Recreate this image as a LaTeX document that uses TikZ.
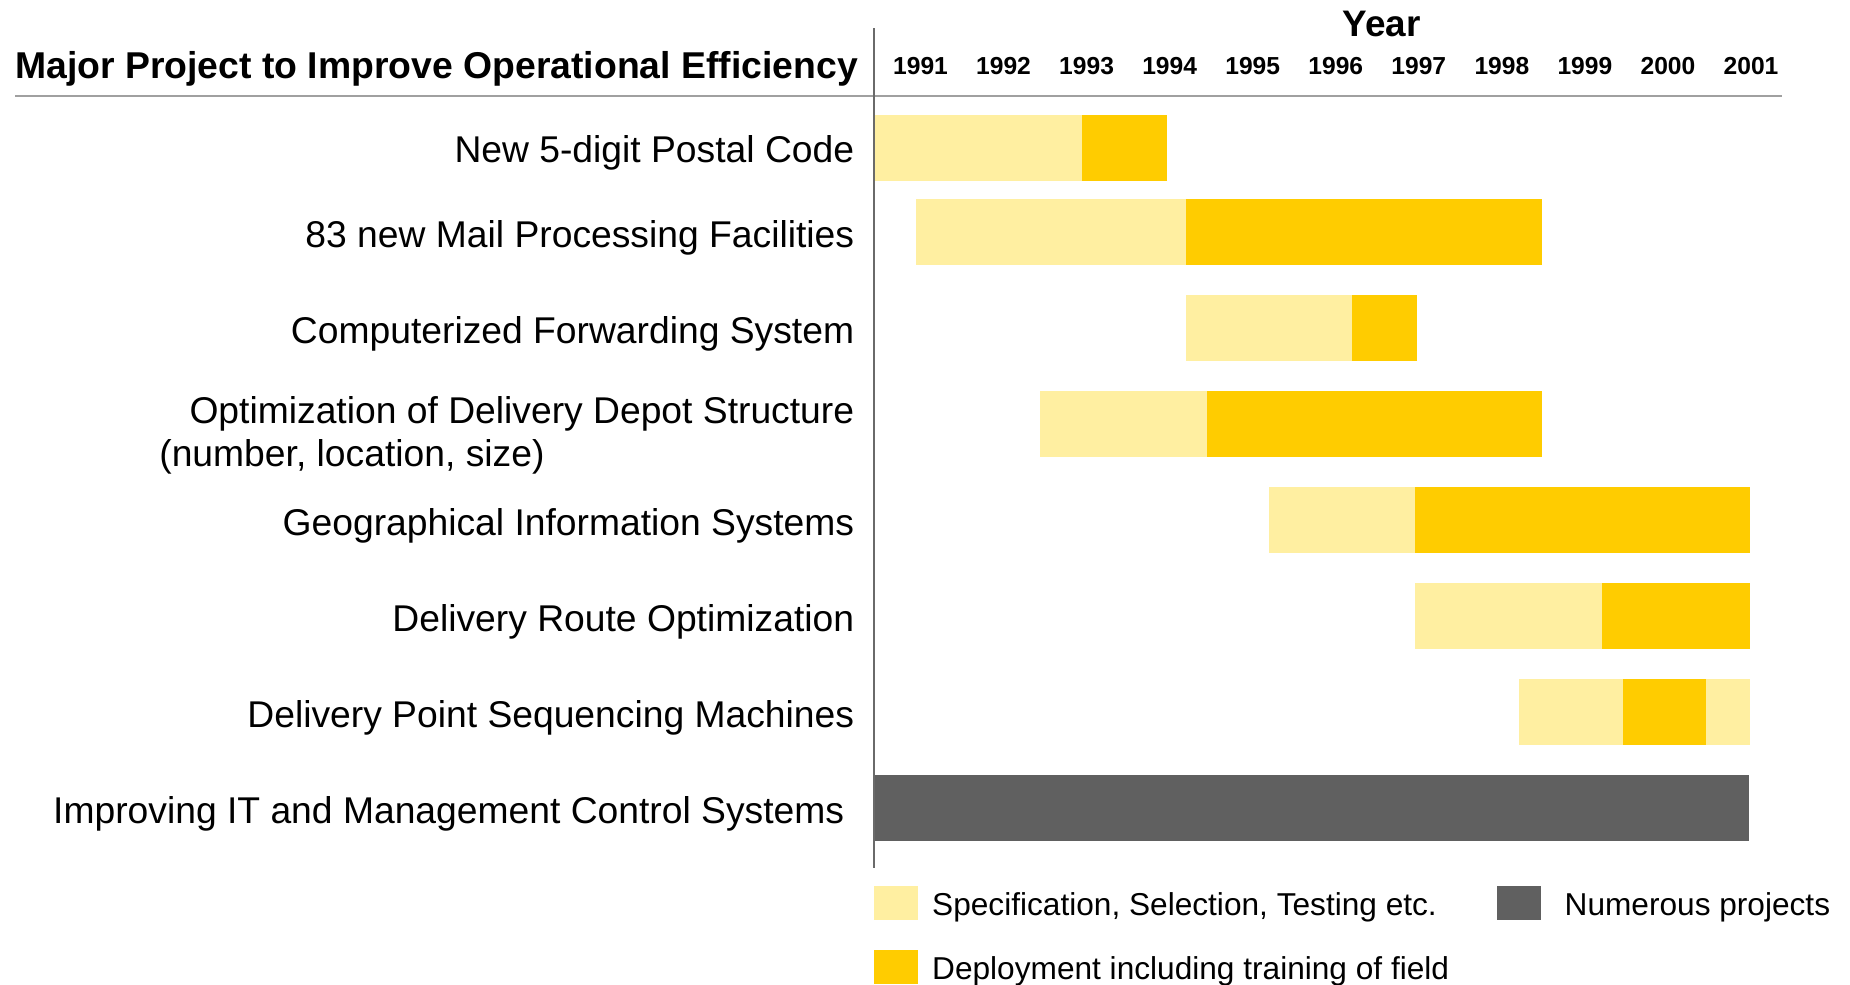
\documentclass[tikz,border=0pt]{standalone}
\usepackage{fontspec}
\setmainfont{Liberation Sans}
\usepackage{xcolor}
\usepackage{tikz}
\usetikzlibrary{positioning}

\definecolor{specclr}{HTML}{FFEFA1}
\definecolor{deployclr}{HTML}{FFCC00}
\definecolor{numclr}{HTML}{606060}
\definecolor{rulegray}{HTML}{A0A0A0}
\definecolor{axisgray}{HTML}{6A6A6A}

\tikzset{
    lbl/.style={anchor=base east, inner sep=0pt, font=\fontsize{21.2}{25}\selectfont},
    yr/.style={anchor=base, inner sep=0pt, font=\bfseries\fontsize{14}{17}\selectfont},
    legbox/.style={minimum width=0.88cm, minimum height=0.68cm, inner sep=0pt},
    legtxt/.style={anchor=base west, yshift=-0.24cm, inner sep=0pt, font=\fontsize{18}{22}\selectfont},
    spec/.style={fill=specclr},
    deploy/.style={fill=deployclr},
}

\begin{document}
\begin{tikzpicture}[auto, node distance=1cm]
    \useasboundingbox (0,0) rectangle (37,-19.7);

    % header
    \node [anchor=base west, inner sep=0pt, font=\bfseries\fontsize{21.25}{25}\selectfont] (title) at (0.30,-1.58) {Major Project to Improve Operational Efficiency};
    \node [anchor=base, inner sep=0pt, font=\bfseries\fontsize{21}{25}\selectfont] (yearhdr) at (27.63,-0.73) {Year};
    \foreach \yy [count=\i from 0] in {1991,...,2001}
        \node [yr] (y\yy) at (18.41+1.661*\i,-1.50) {\yy};
    \draw [rulegray, line width=1.1pt] (0.30,-1.92) -- (35.64,-1.92);

    % project names
    \node [lbl] (lbl1) at (17.09,-3.254) {New 5-digit Postal Code};
    \node [lbl] (lbl2) at (17.09,-4.955) {83 new Mail Processing Facilities};
    \node [lbl] (lbl3) at (17.09,-6.867) {Computerized Forwarding System};
    \node [lbl] (lbl4) at (17.09,-8.467) {Optimization of Delivery Depot Structure};
    \node [lbl, anchor=base west] (lbl4b) at (3.18,-9.333) {(number, location, size)};
    \node [lbl] (lbl5) at (17.09,-10.701) {Geographical Information Systems};
    \node [lbl] (lbl6) at (17.09,-12.634) {Delivery Route Optimization};
    \node [lbl] (lbl7) at (17.09,-14.548) {Delivery Point Sequencing Machines};
    \node [lbl] (lbl8) at (16.89,-16.466) {Improving IT and Management Control Systems};

    % bars
    \fill [spec] (17.48,-2.30) rectangle (21.64,-3.62);
    \fill [deploy] (21.64,-2.30) rectangle (23.34,-3.62);

    \fill [spec] (18.32,-3.98) rectangle (23.72,-5.30);
    \fill [deploy] (23.72,-3.98) rectangle (30.84,-5.30);

    \fill [spec] (23.72,-5.90) rectangle (27.04,-7.22);
    \fill [deploy] (27.04,-5.90) rectangle (28.34,-7.22);

    \fill [spec] (20.80,-7.82) rectangle (24.14,-9.14);
    \fill [deploy] (24.14,-7.82) rectangle (30.84,-9.14);

    \fill [spec] (25.38,-9.74) rectangle (28.30,-11.06);
    \fill [deploy] (28.30,-9.74) rectangle (35.00,-11.06);

    \fill [spec] (28.30,-11.66) rectangle (32.04,-12.98);
    \fill [deploy] (32.04,-11.66) rectangle (35.00,-12.98);

    \fill [spec] (30.38,-13.58) rectangle (32.46,-14.90);
    \fill [deploy] (32.46,-13.58) rectangle (34.12,-14.90);
    \fill [spec] (34.12,-13.58) rectangle (35.00,-14.90);

    \fill [numclr] (17.48,-15.50) rectangle (34.98,-16.82);

    \draw [axisgray, line width=0.8pt] (17.48,-0.57) -- (17.48,-17.36);

    % legend
    \node [legbox, spec] (legspec) at (17.92,-18.06) {};
    \node [right=0.27cm of legspec, legtxt] (legspectxt) {Specification, Selection, Testing etc.};
    \node [legbox, fill=numclr] (legnum) at (30.38,-18.06) {};
    \node [right=0.46cm of legnum, legtxt] (legnumtxt) {Numerous projects};
    \node [legbox, deploy, below=0.59cm of legspec] (legdep) {};
    \node [right=0.27cm of legdep, legtxt] (legdeptxt) {Deployment including training of field};

\end{tikzpicture}
\end{document}
